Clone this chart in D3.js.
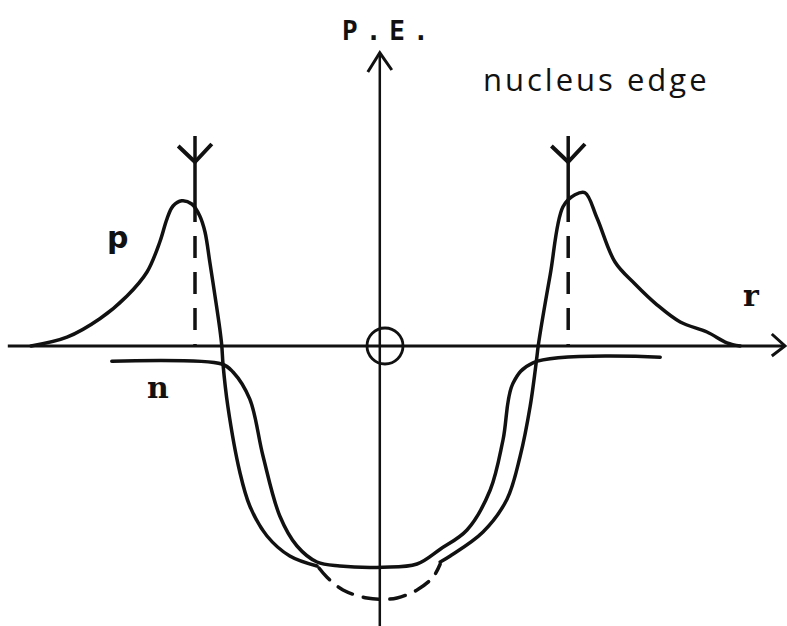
<!DOCTYPE html>
<html>
<head>
<meta charset="utf-8">
<script src="https://cdn.jsdelivr.net/npm/d3@7"></script>
<style>
  body { margin: 0; background: #fff; }
  svg { display: block; }
</style>
</head>
<body>
<div id="chart-area"></div>
<script>
// potential energy sketch, r in arbitrary units (0 = nucleus centre)
const protonLeft = [[-8.8,0],[-7.9,0.22],[-7.08,0.68],[-6.4,1.25],[-5.9,1.85],[-5.58,2.6],[-5.4,3.18],[-5.25,3.5],[-5.03,3.63],[-4.78,3.55],[-4.58,3.25],[-4.45,2.85],[-4.33,2.1],[-4.2,1.25],[-4.08,0.43],[-4.03,0],[-4.0,-0.45],[-3.88,-1.5],[-3.58,-3.15],[-3.33,-4.0],[-2.9,-4.75],[-2.33,-5.25],[-1.65,-5.5]]
const protonBottom = [[-1.6,-5.55],[-1.4,-5.78],[-1.0,-6.1],[-0.4,-6.3],[0,-6.33],[0.35,-6.3],[0.85,-6.1],[1.25,-5.78],[1.43,-5.45]]
const protonRight = [[1.43,-5.4],[1.68,-5.25],[2.5,-4.65],[3.1,-3.83],[3.43,-2.75],[3.68,-1.5],[3.85,-0.25],[3.88,0],[4.18,1.78],[4.5,3.48],[4.8,3.78],[5.05,3.83],[5.35,3.2],[5.8,2.1],[6.3,1.55],[6.85,1.03],[7.43,0.6],[8.1,0.35],[8.6,0.08],[8.93,0]]
const neutron = [[-6.78,-0.38],[-4.03,-0.45],[-3.75,-0.65],[-3.33,-1.33],[-3.0,-2.75],[-2.58,-4.25],[-2.15,-5.0],[-1.65,-5.4],[-1.08,-5.5],[0,-5.53],[0.85,-5.45],[1.43,-5.08],[2.1,-4.6],[2.68,-3.6],[3.0,-2.35],[3.25,-0.93],[3.75,-0.42],[6.93,-0.28]]
const nucleusEdges = [-4.7, 4.63]
const edgeTop = 5.25
const edgeMeet = 3.65
const curveLabels = [
  { text: "p", x: -6.9, y: 2.45 },
  { text: "n", x: -5.9, y: -1.3 },
  { text: "r", x: 9.0, y: 1.0 }
]

const svgWidth = 787
const svgHeight = 626

const svg = d3.select("#chart-area")
  .append("svg")
  .attr("width", svgWidth)
  .attr("height", svgHeight)

const xScale = d3.scaleLinear()
  .domain([-10, 10])
  .range([383 - 400, 383 + 400])

const yScale = d3.scaleLinear()
  .domain([-7, 8])
  .range([346 + 280, 346 - 320])

const lineGenerator = d3.line()
  .x(d => xScale(d[0]))
  .y(d => yScale(d[1]))
  .curve(d3.curveCatmullRom.alpha(0.5))

const straight = d3.line()
  .x(d => xScale(d[0]))
  .y(d => yScale(d[1]))

const ink = "#111"

// axes
const axisX0 = -9.38, axisX1 = 10.05
svg.append("path")
  .attr("d", straight([[axisX0, 0], [axisX1, 0]]))
  .attr("stroke", ink).attr("stroke-width", 3).attr("fill", "none")
svg.append("path")
  .attr("d", straight([[axisX1 - 0.33, 0.3], [axisX1, 0], [axisX1 - 0.33, -0.25]]))
  .attr("stroke", ink).attr("stroke-width", 3).attr("fill", "none")

const axisY = -0.08
svg.append("path")
  .attr("d", straight([[axisY, -7.2], [axisY, 7.33]]))
  .attr("stroke", ink).attr("stroke-width", 2.5).attr("fill", "none")
svg.append("path")
  .attr("d", straight([[axisY - 0.3, 6.85], [axisY, 7.33], [axisY + 0.3, 6.9]]))
  .attr("stroke", ink).attr("stroke-width", 3).attr("fill", "none")

svg.append("circle")
  .attr("cx", xScale(0.05))
  .attr("cy", yScale(0))
  .attr("r", 18)
  .attr("stroke", ink).attr("stroke-width", 2.8).attr("fill", "none")

// nucleus edge markers
nucleusEdges.forEach(x => {
  svg.append("path")
    .attr("d", straight([[x, edgeTop], [x, edgeMeet]]))
    .attr("stroke", ink).attr("stroke-width", 3.5).attr("fill", "none")
  svg.append("path")
    .attr("d", straight([[x, edgeMeet], [x, 0]]))
    .attr("stroke", ink).attr("stroke-width", 3.5).attr("fill", "none")
    .attr("stroke-dasharray", "22,14")
  svg.append("path")
    .attr("d", straight([[x - 0.42, 5.0], [x, 4.6], [x + 0.42, 5.05]]))
    .attr("stroke", ink).attr("stroke-width", 4).attr("fill", "none")
    .attr("stroke-linejoin", "round")
})

// curves
const drawCurve = (data, dash) => svg.append("path")
  .attr("d", lineGenerator(data))
  .attr("fill", "none")
  .attr("stroke", ink)
  .attr("stroke-width", 3.5)
  .attr("stroke-linecap", "round")
  .attr("stroke-dasharray", dash)

drawCurve(protonLeft, null)
drawCurve(protonBottom, "16,11")
drawCurve(protonRight, null)
drawCurve(neutron, null)

// labels
svg.append("text")
  .attr("x", 342).attr("y", 40)
  .attr("font-family", "DejaVu Sans Mono")
  .attr("font-size", 26)
  .attr("font-weight", "bold")
  .attr("letter-spacing", 8)
  .attr("fill", ink)
  .text("P.E.")

svg.append("text")
  .attr("x", 483).attr("y", 91)
  .attr("font-family", "Open Sans")
  .attr("font-size", 31)
  .attr("letter-spacing", 3)
  .attr("fill", ink)
  .text("nucleus edge")

svg.selectAll(".curve-label")
  .data(curveLabels)
  .join("text")
  .attr("class", "curve-label")
  .attr("x", d => xScale(d.x))
  .attr("y", d => yScale(d.y))
  .attr("font-family", d => d.text === "p" ? "DejaVu Sans" : "DejaVu Serif")
  .attr("font-size", 30)
  .attr("font-weight", "bold")
  .attr("fill", ink)
  .text(d => d.text)
</script>
</body>
</html>
